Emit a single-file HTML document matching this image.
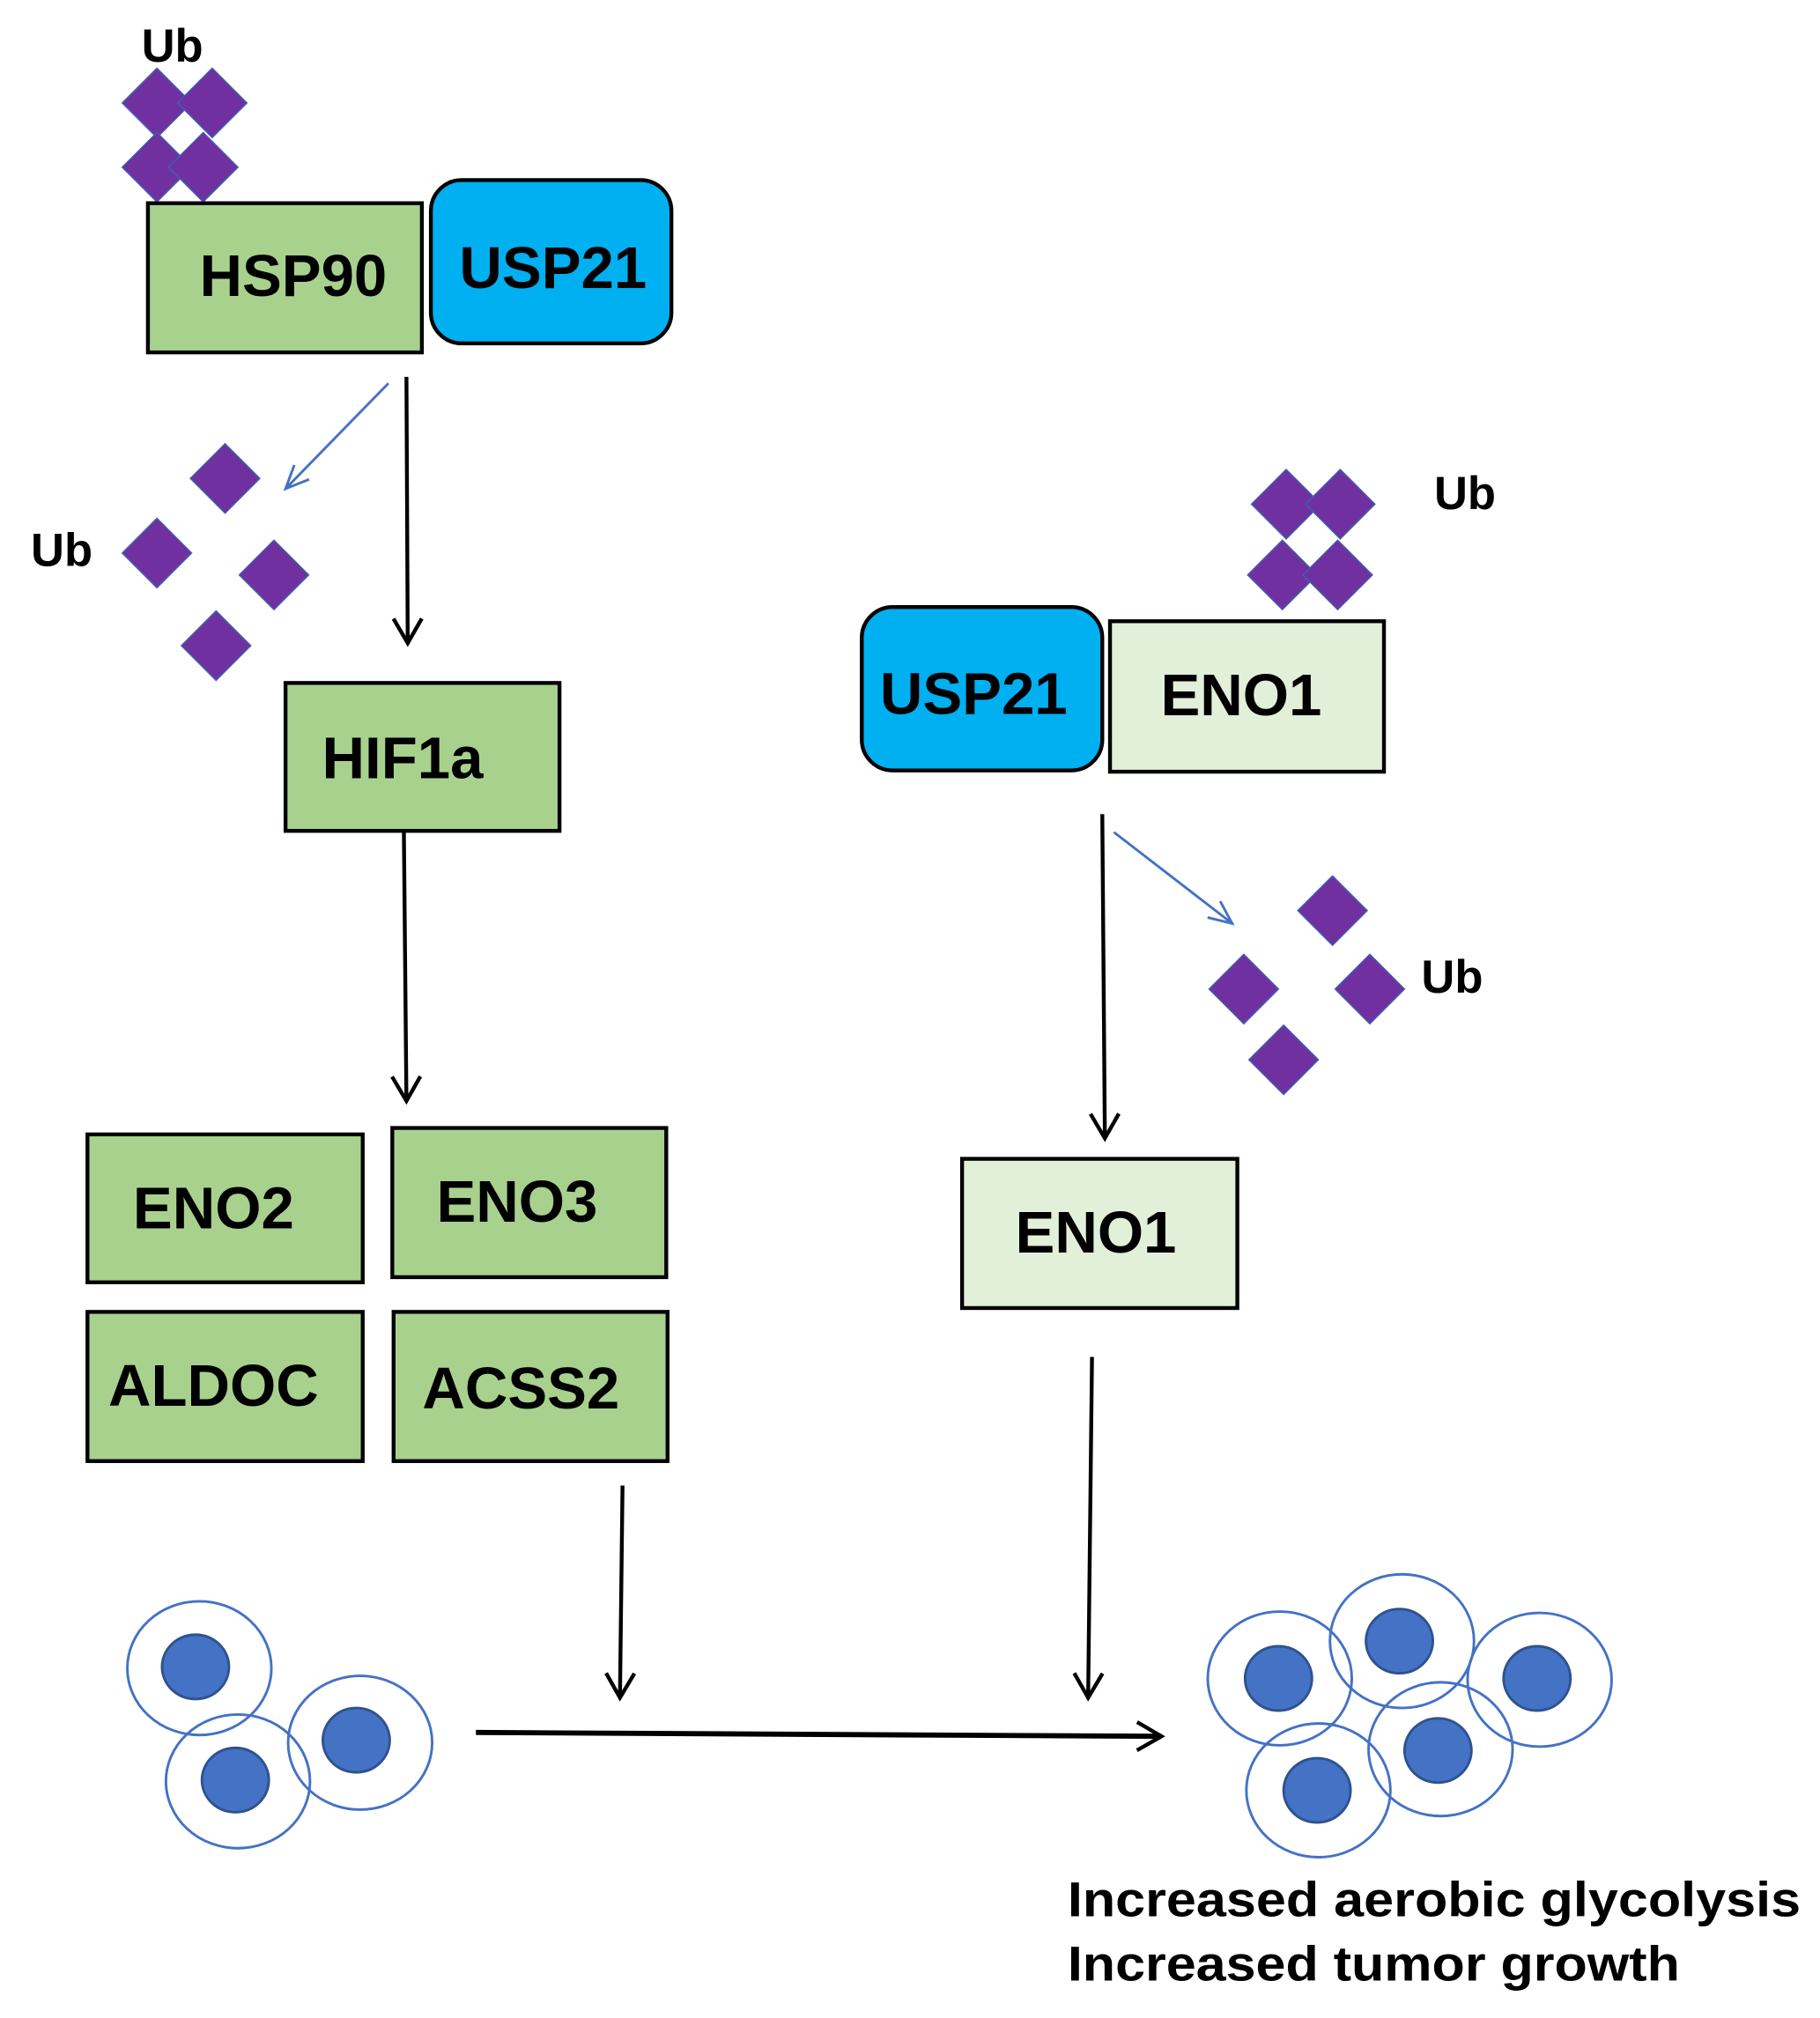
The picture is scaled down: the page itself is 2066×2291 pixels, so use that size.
<!DOCTYPE html>
<html><head><meta charset="utf-8"><style>html,body{margin:0;padding:0;background:#fff}svg{display:block}text{font-family:"Liberation Sans",Arial,sans-serif;font-weight:bold;fill:#000}</style></head>
<body>
<svg width="2066" height="2291" viewBox="0 0 1415 1569" preserveAspectRatio="none" xmlns="http://www.w3.org/2000/svg">
<defs>
<g id="d"><polygon points="0,-27 27,0 0,27 -27,0" fill="#7030a0" stroke="#3f5fb0" stroke-width="1"/></g>
<marker id="ab" markerWidth="26" markerHeight="26" refX="21" refY="13" orient="auto" markerUnits="userSpaceOnUse" viewBox="0 0 26 26"><path d="M2,2 L21,13 L2,24" fill="none" stroke="#000" stroke-width="3"/></marker>
<marker id="ablue" markerWidth="24" markerHeight="24" refX="20" refY="12" orient="auto" markerUnits="userSpaceOnUse" viewBox="0 0 24 24"><path d="M2,4 L20,12 L2,20" fill="none" stroke="#4472c4" stroke-width="2"/></marker>
</defs>
<rect width="1415" height="1569" fill="#fff"/>
<text x="110" y="48" font-size="36">Ub</text>
<use href="#d" x="122" y="80"/><use href="#d" x="165" y="80"/><use href="#d" x="122" y="130"/><use href="#d" x="158" y="130"/>
<rect x="115" y="158" width="213" height="116" fill="#a9d18e" stroke="#000" stroke-width="3"/>
<text x="228" y="230" font-size="46" text-anchor="middle">HSP90</text>
<rect x="335" y="140" width="187" height="127" rx="24" fill="#00b0f0" stroke="#000" stroke-width="3"/>
<text x="430" y="224" font-size="46" text-anchor="middle">USP21</text>
<line x1="316" y1="293" x2="317" y2="500" stroke="#000" stroke-width="3" marker-end="url(#ab)"/>
<line x1="302" y1="298" x2="222" y2="380" stroke="#4472c4" stroke-width="2" marker-end="url(#ablue)"/>
<use href="#d" x="175" y="372"/><use href="#d" x="122" y="430"/><use href="#d" x="213" y="447"/><use href="#d" x="168" y="502"/>
<text x="24" y="440" font-size="36">Ub</text>
<rect x="222" y="531" width="213" height="115" fill="#a9d18e" stroke="#000" stroke-width="3"/>
<text x="313" y="605" font-size="46" text-anchor="middle">HIF1a</text>
<line x1="314" y1="646" x2="316" y2="856" stroke="#000" stroke-width="3" marker-end="url(#ab)"/>
<rect x="68" y="882" width="214" height="115" fill="#a9d18e" stroke="#000" stroke-width="3"/>
<text x="166" y="955" font-size="46" text-anchor="middle">ENO2</text>
<rect x="305" y="877" width="213" height="116" fill="#a9d18e" stroke="#000" stroke-width="3"/>
<text x="402" y="950" font-size="46" text-anchor="middle">ENO3</text>
<rect x="68" y="1020" width="214" height="116" fill="#a9d18e" stroke="#000" stroke-width="3"/>
<text x="166" y="1093" font-size="46" text-anchor="middle">ALDOC</text>
<rect x="306" y="1020" width="213" height="116" fill="#a9d18e" stroke="#000" stroke-width="3"/>
<text x="405" y="1095" font-size="46" text-anchor="middle">ACSS2</text>
<line x1="484" y1="1155" x2="482" y2="1320" stroke="#000" stroke-width="3" marker-end="url(#ab)"/>
<use href="#d" x="1000" y="392"/><use href="#d" x="1042" y="392"/><use href="#d" x="997" y="447"/><use href="#d" x="1040" y="447"/>
<text x="1115" y="396" font-size="36">Ub</text>
<rect x="670" y="472" width="187" height="127" rx="24" fill="#00b0f0" stroke="#000" stroke-width="3"/>
<text x="757" y="555" font-size="46" text-anchor="middle">USP21</text>
<rect x="863" y="483" width="213" height="117" fill="#e2efd9" stroke="#000" stroke-width="3"/>
<text x="965" y="556" font-size="46" text-anchor="middle">ENO1</text>
<line x1="857" y1="633" x2="859" y2="885" stroke="#000" stroke-width="3" marker-end="url(#ab)"/>
<line x1="866" y1="647" x2="958" y2="718" stroke="#4472c4" stroke-width="2" marker-end="url(#ablue)"/>
<use href="#d" x="1036" y="708"/><use href="#d" x="967" y="769"/><use href="#d" x="1065" y="769"/><use href="#d" x="998" y="824"/>
<text x="1105" y="772" font-size="36">Ub</text>
<rect x="748" y="901" width="214" height="116" fill="#e2efd9" stroke="#000" stroke-width="3"/>
<text x="852" y="974" font-size="46" text-anchor="middle">ENO1</text>
<line x1="849" y1="1055" x2="846" y2="1320" stroke="#000" stroke-width="3" marker-end="url(#ab)"/>
<line x1="370" y1="1347" x2="903" y2="1350" stroke="#000" stroke-width="4" marker-end="url(#ab)"/>
<g fill="none" stroke="#4472c4" stroke-width="2">
<ellipse cx="155" cy="1297" rx="56" ry="52"/><ellipse cx="185" cy="1385" rx="56" ry="52"/><ellipse cx="280" cy="1355" rx="56" ry="52"/>
<ellipse cx="995" cy="1305" rx="56" ry="52"/><ellipse cx="1090" cy="1276" rx="56" ry="52"/><ellipse cx="1197" cy="1306" rx="56" ry="52"/><ellipse cx="1120" cy="1360" rx="56" ry="52"/><ellipse cx="1025" cy="1392" rx="56" ry="52"/>
</g>
<g fill="#4472c4" stroke="#2f528f" stroke-width="2">
<ellipse cx="152" cy="1296" rx="26" ry="25"/><ellipse cx="183" cy="1384" rx="26" ry="25"/><ellipse cx="277" cy="1353" rx="26" ry="25"/>
<ellipse cx="994" cy="1305" rx="26" ry="25"/><ellipse cx="1088" cy="1276" rx="26" ry="25"/><ellipse cx="1195" cy="1305" rx="26" ry="25"/><ellipse cx="1118" cy="1361" rx="26" ry="25"/><ellipse cx="1024" cy="1392" rx="26" ry="25"/>
</g>
<text x="830" y="1490" font-size="38" textLength="570" lengthAdjust="spacingAndGlyphs">Increased aerobic glycolysis</text>
<text x="830" y="1540" font-size="38" textLength="476" lengthAdjust="spacingAndGlyphs">Increased tumor growth</text>
</svg>
</body></html>
